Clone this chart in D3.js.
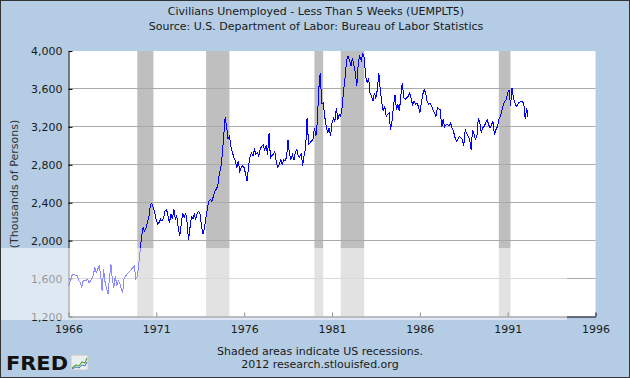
<!DOCTYPE html>
<html><head><meta charset="utf-8">
<script src="https://cdn.jsdelivr.net/npm/d3@7"></script>
<style>
body{margin:0;background:#b4cde4}
svg{display:block}
text{font-family:"DejaVu Sans",Verdana,sans-serif}
</style>
</head><body>
<svg id="chart" width="630" height="378"></svg>
<script>
// ---- data ----
const titleLines = ["Civilians Unemployed - Less Than 5 Weeks (UEMPLT5)",
                    "Source: U.S. Department of Labor: Bureau of Labor Statistics"];
const yAxisTitle = "(Thousands of Persons)";
const footnoteLines = ["Shaded areas indicate US recessions.", "2012 research.stlouisfed.org"];
const firstMonth = "1966-01-01";
// monthly values, thousands of persons, Jan 1966 .. Mar 1992
const unemployed = [
  1523,1560,1620,1646,1646,1630,1635,1575,1560,1505,1575,1580, // 1966
  1580,1593,1558,1575,1600,1635,1716,1663,1698,1740,1628,1470, // 1967
  1698,1560,1505,1435,1600,1750,1593,1505,1628,1523,1575,1558, // 1968
  1488,1453,1600,1628,1646,1663,1680,1698,1716,1733,1600,1620, // 1969
  1750,1900,2050,2137,2102,2137,2190,2260,2382,2393,2347,2290, // 1970
  2215,2172,2195,2225,2207,2242,2312,2330,2260,2190,2277,2232, // 1971
  2330,2225,2260,2137,2049,2172,2295,2242,2295,2190,2004,2137, // 1972
  2250,2230,2277,2225,2295,2312,2277,2137,2066,2150,2260,2350, // 1973
  2420,2435,2410,2470,2520,2545,2575,2700,2760,2891,3101,3300, // 1974
  3200,3070,3100,2990,2930,2880,2840,2770,2840,2733,2770,2790, // 1975
  2770,2700,2628,2780,2880,2926,2891,2960,2910,2926,2890,2970, // 1976
  2996,3010,2960,3000,2908,3130,2870,2900,2910,2940,2820,2770, // 1977
  2800,2856,2803,2856,2840,2880,3060,2908,2856,2908,2850,2930, // 1978
  2960,2890,2880,2920,2790,2900,2970,3294,3020,3031,3050,3066, // 1979
  3189,3101,3250,3600,3768,3450,3452,3312,3207,3136,3189,3101, // 1980
  3242,3294,3260,3400,3277,3330,3312,3417,3593,3733,3908,3944, // 1981
  3900,3838,3930,3850,3768,3628,3880,3944,3900,3979,3930,3733, // 1982
  3663,3715,3558,3522,3470,3558,3500,3593,3768,3593,3452,3365, // 1983
  3417,3312,3330,3347,3172,3259,3417,3540,3382,3435,3365,3522, // 1984
  3663,3505,3490,3505,3522,3558,3505,3435,3470,3440,3452,3417, // 1985
  3347,3452,3540,3593,3558,3470,3435,3452,3417,3382,3347,3312, // 1986
  3400,3390,3382,3200,3277,3200,3224,3224,3207,3242,3189,3154, // 1987
  3090,3049,3070,3101,3084,3066,3000,3172,3130,3101,3066,2961, // 1988
  3171,3120,3066,3101,3294,3242,3136,3189,3207,3242,3277,3224, // 1989
  3189,3224,3259,3119,3171,3200,3277,3312,3365,3435,3470,3487, // 1990
  3557,3593,3417,3610,3505,3452,3417,3440,3460,3470,3465,3452, // 1991
  3280,3400,3300                                              // 1992
];
const recessionStarts = ["1969-12-01","1973-11-01","1980-01-01","1981-07-01","1990-07-01"];
const recessionEnds   = ["1970-11-01","1975-03-01","1980-07-01","1982-11-01","1991-03-01"];
const yTicks = [1200,1600,2000,2400,2800,3200,3600,4000];
const xTickYears = [1966,1971,1976,1981,1986,1991,1996];

// ---- layout ----
const W = 630, H = 378;
const plot = {left: 68.5, right: 595.5, top: 51, bottom: 316.5};
const parse = d3.utcParse("%Y-%m-%d");
const start = parse(firstMonth);
const dates = unemployed.map((_, i) => d3.utcMonth.offset(start, i));
const series = unemployed.map((v, i) => ({date: dates[i], value: v}));

const x = d3.scaleUtc().domain([new Date(Date.UTC(1966,0,1)), new Date(Date.UTC(1996,0,1))])
  .range([plot.left, plot.right]);
const y = d3.scaleLinear().domain([1200, 4000]).range([plot.bottom, plot.top]);

const svg = d3.select("#chart");
svg.append("rect").attr("width", W).attr("height", H).attr("fill", "#b4cde4");

// plot background
svg.append("rect").attr("x", plot.left).attr("y", plot.top)
  .attr("width", plot.right - plot.left).attr("height", plot.bottom - plot.top)
  .attr("fill", "#ffffff");

// recessions
svg.append("g").selectAll("rect").data(recessionStarts.map((s, i) => [parse(s), parse(recessionEnds[i])]))
  .join("rect")
  .attr("x", d => x(d[0])).attr("width", d => x(d[1]) - x(d[0]))
  .attr("y", plot.top).attr("height", plot.bottom - plot.top)
  .attr("fill", "#bfbfbf");

// gridlines
svg.append("g").selectAll("line").data(yTicks.filter(t => t > 1200 && t < 4000))
  .join("line")
  .attr("x1", plot.left).attr("x2", plot.right)
  .attr("y1", d => Math.floor(y(d)) + 0.5).attr("y2", d => Math.floor(y(d)) + 0.5)
  .attr("stroke", "#aaaaaa").attr("stroke-width", 1);

// series line
svg.append("path").datum(series)
  .attr("d", d3.line().x(d => x(d.date)).y(d => y(d.value)))
  .attr("fill", "none").attr("stroke", "#0000ff").attr("stroke-width", 1)
  .attr("shape-rendering", "crispEdges");

// axes
const yAxis = d3.axisLeft(y).tickValues(yTicks).tickFormat(d3.format(","))
  .tickSizeInner(-4).tickSizeOuter(0).tickPadding(6);
const gy = svg.append("g").attr("transform", `translate(${plot.left},0)`).call(yAxis);
const xAxis = d3.axisBottom(x).tickValues(xTickYears.map(yr => new Date(Date.UTC(yr,0,1))))
  .tickFormat(d3.utcFormat("%Y")).tickSizeInner(-4).tickSizeOuter(0).tickPadding(9);
const gx = svg.append("g").attr("transform", `translate(0,${plot.bottom})`).call(xAxis);
[gx, gy].forEach(g => {
  g.select(".domain").attr("stroke", "#000");
  g.selectAll(".tick line").attr("stroke", "#000");
  g.selectAll(".tick text").attr("fill", "#1a1a1a").style("font-size", "11px")
    .style("font-family", '"DejaVu Sans",Verdana,sans-serif');
});

// y title
svg.append("text").attr("transform", "translate(18,184) rotate(-90)")
  .attr("text-anchor", "middle").attr("fill", "#333").style("font-size", "11px")
  .text(yAxisTitle);

// translucent watermark band
svg.append("rect").attr("x", 0).attr("y", 248).attr("width", 567).attr("height", 72)
  .attr("fill", "#ffffff").attr("opacity", 0.55);

// titles
svg.append("g").selectAll("text").data(titleLines).join("text")
  .attr("x", 316).attr("y", (d, i) => 15 + i * 15)
  .attr("text-anchor", "middle").attr("fill", "#1a1a1a").style("font-size", "11px")
  .text(d => d);

// footnote
svg.append("g").selectAll("text").data(footnoteLines).join("text")
  .attr("x", 320).attr("y", (d, i) => 355 + i * 13)
  .attr("text-anchor", "middle").attr("fill", "#1a1a1a").style("font-size", "11px")
  .text(d => d);

// FRED logo
svg.append("text").attr("x", 6).attr("y", 370)
  .attr("textLength", 62).attr("lengthAdjust", "spacingAndGlyphs")
  .style("font-size", "19px").style("font-weight", "bold").attr("fill", "#111")
  .text("FRED");
const icon = svg.append("g").attr("transform", "translate(71,355)");
icon.append("rect").attr("width", 17).attr("height", 15).attr("fill", "#e9eef0").attr("stroke", "#c8c8c8");
icon.append("path").attr("d", "M1,13 L5,10 L8,11 L11,7 L14,8 L16,3").attr("fill", "none")
  .attr("stroke", "#5aa845").attr("stroke-width", 1.2);
icon.append("path").attr("d", "M1,14 L5,12 L8,13 L11,10 L14,11 L16,7").attr("fill", "none")
  .attr("stroke", "#4a78c0").attr("stroke-width", 1);

// outer border
svg.append("rect").attr("x", 0.5).attr("y", 0.5).attr("width", W - 1).attr("height", H - 1)
  .attr("fill", "none").attr("stroke", "#333");
</script>
</body></html>
